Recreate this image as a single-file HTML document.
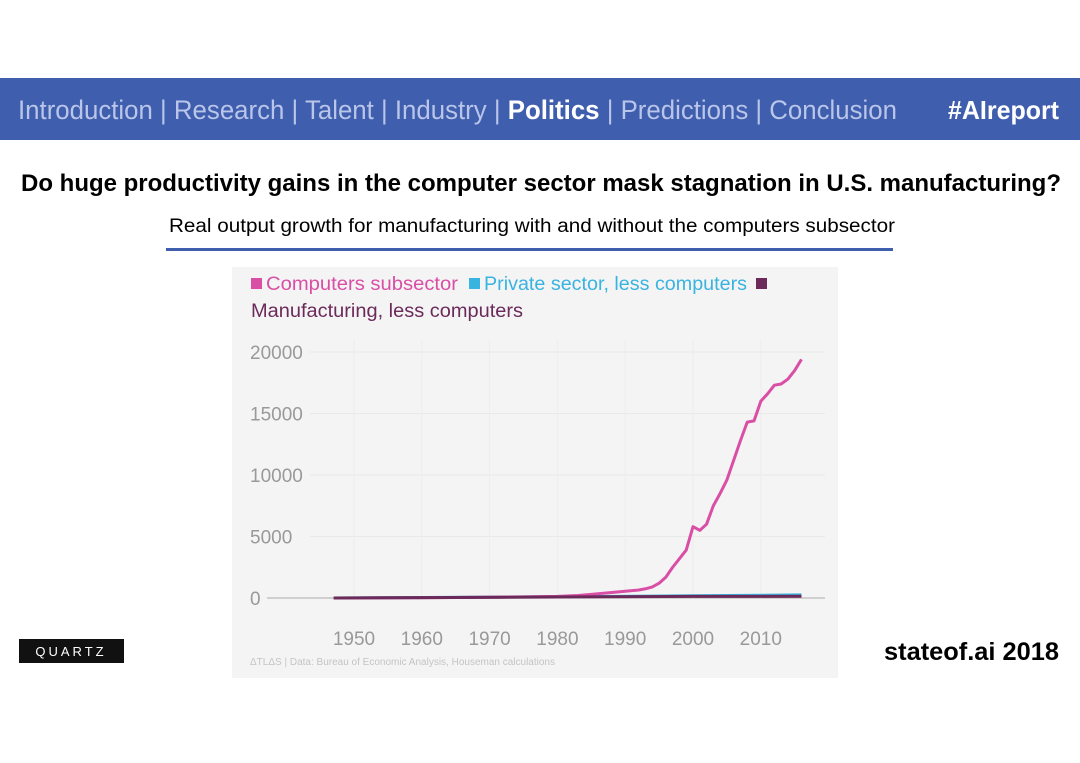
<!DOCTYPE html>
<html><head><meta charset="utf-8"><style>
html,body{margin:0;padding:0;background:#fff;width:1080px;height:763px;overflow:hidden}
svg{display:block}
</style></head><body>
<svg id="page" width="1080" height="763" viewBox="0 0 1080 763" xmlns="http://www.w3.org/2000/svg" font-family="'Liberation Sans Narrow','Liberation Sans',sans-serif">
<rect x="0" y="78" width="1080" height="62" fill="#3f5ead"/>
<text x="18" y="119" font-size="27" fill="#b9c5e9" textLength="879" lengthAdjust="spacingAndGlyphs">Introduction | Research | Talent | Industry | <tspan fill="#fff" font-weight="bold">Politics</tspan> | Predictions | Conclusion</text>
<text x="948" y="119" font-size="26" fill="#fff" font-weight="bold" textLength="111" lengthAdjust="spacingAndGlyphs">#AIreport</text>
<text x="21" y="191" font-size="24" font-weight="bold" fill="#000" textLength="1040" lengthAdjust="spacingAndGlyphs">Do huge productivity gains in the computer sector mask stagnation in U.S. manufacturing?</text>
<text x="169" y="232" font-size="19" fill="#000" textLength="726" lengthAdjust="spacingAndGlyphs">Real output growth for manufacturing with and without the computers subsector</text>
<rect x="166" y="248" width="727" height="3" fill="#3f5ead"/>
<rect x="232" y="267" width="606" height="411" fill="#f4f4f4"/>
<g font-family="'Liberation Sans',sans-serif">
<rect x="251" y="278" width="11" height="11" fill="#d94fa5"/>
<text x="266" y="290" font-size="19" fill="#d94fa5" textLength="192" lengthAdjust="spacingAndGlyphs">Computers subsector</text>
<rect x="469" y="278" width="11" height="11" fill="#39b3e0"/>
<text x="484" y="290" font-size="19" fill="#39b3e0" textLength="263" lengthAdjust="spacingAndGlyphs">Private sector, less computers</text>
<rect x="756" y="278" width="11" height="11" fill="#6b2a5a"/>
<text x="251" y="317" font-size="19" fill="#6b2a5a" textLength="272" lengthAdjust="spacingAndGlyphs">Manufacturing, less computers</text>
<text x="250" y="665" font-size="10" fill="#c4c4c4">ΔTLΔS | Data: Bureau of Economic Analysis, Houseman calculations</text>
</g>
<g id="plot"></g>
<rect x="19" y="639" width="105" height="24" fill="#111"/>
<text x="71" y="656" font-size="13" fill="#fff" text-anchor="middle" font-family="'Liberation Sans',sans-serif" letter-spacing="3">QUARTZ</text>
<text x="884" y="660" font-size="25" fill="#000" font-weight="bold" textLength="175" lengthAdjust="spacingAndGlyphs">stateof.ai 2018</text>
</svg>
<script>
const years=[1947,1950,1955,1960,1965,1970,1975,1980,1983,1985,1988,1990,1992,1993,1994,1995,1996,1997,1998,1999,2000,2001,2002,2003,2004,2005,2006,2007,2008,2009,2010,2011,2012,2013,2014,2015,2016];
const computers=[0,5,15,25,40,60,90,130,200,300,450,550,650,750,900,1200,1700,2500,3200,3900,5800,5500,6000,7500,8500,9600,11200,12800,14300,14400,16000,16600,17300,17400,17800,18500,19400];
const privateYears=[1947,1960,1980,2000,2016];
const privateSector=[0,40,100,180,250];
const manufacturing=[0,30,80,130,140];
const yTicks=[0,5000,10000,15000,20000];
const xTicks=[1950,1960,1970,1980,1990,2000,2010];
const NS="http://www.w3.org/2000/svg";
const xs=y=>354+(y-1950)*6.78;
const ys=v=>598-v*0.0123;
const g=document.getElementById('plot');
function mk(t,a){const e=document.createElementNS(NS,t);for(const k in a)e.setAttribute(k,a[k]);g.appendChild(e);return e;}
yTicks.forEach(v=>{
 const l=mk('line',{x1:v===0?267:310,x2:825,y1:ys(v),y2:ys(v),stroke:v===0?'#aaa':'#e9e9e9','stroke-width':1});
 
 
 const t=mk('text',{x:250,y:ys(v)+7,'font-size':19,fill:'#999','font-family':"'Liberation Sans',sans-serif"});
 t.textContent=v;
 
 
});
xTicks.forEach(y=>{
 const l=mk('line',{x1:xs(y),x2:xs(y),y1:340,y2:598,stroke:'#ededed','stroke-width':1});
 
 
 const t=mk('text',{x:xs(y),y:645,'font-size':19,fill:'#999','text-anchor':'middle','font-family':"'Liberation Sans',sans-serif"});
 t.textContent=y;
 
 
});
function line(xa,va,color,name,w){
 const p=mk('polyline',{points:xa.map((x,i)=>xs(x)+','+ys(va[i])).join(' '),fill:'none',stroke:color,'stroke-width':w,'stroke-linejoin':'round'});
 
 
}
line(privateYears,privateSector,'#39b3e0','private-sector-line',3);
line(years,computers,'#d94fa5','computers-line',3);
line(privateYears,manufacturing,'#6b2a5a','manufacturing-line',3);
</script>
</body></html>
